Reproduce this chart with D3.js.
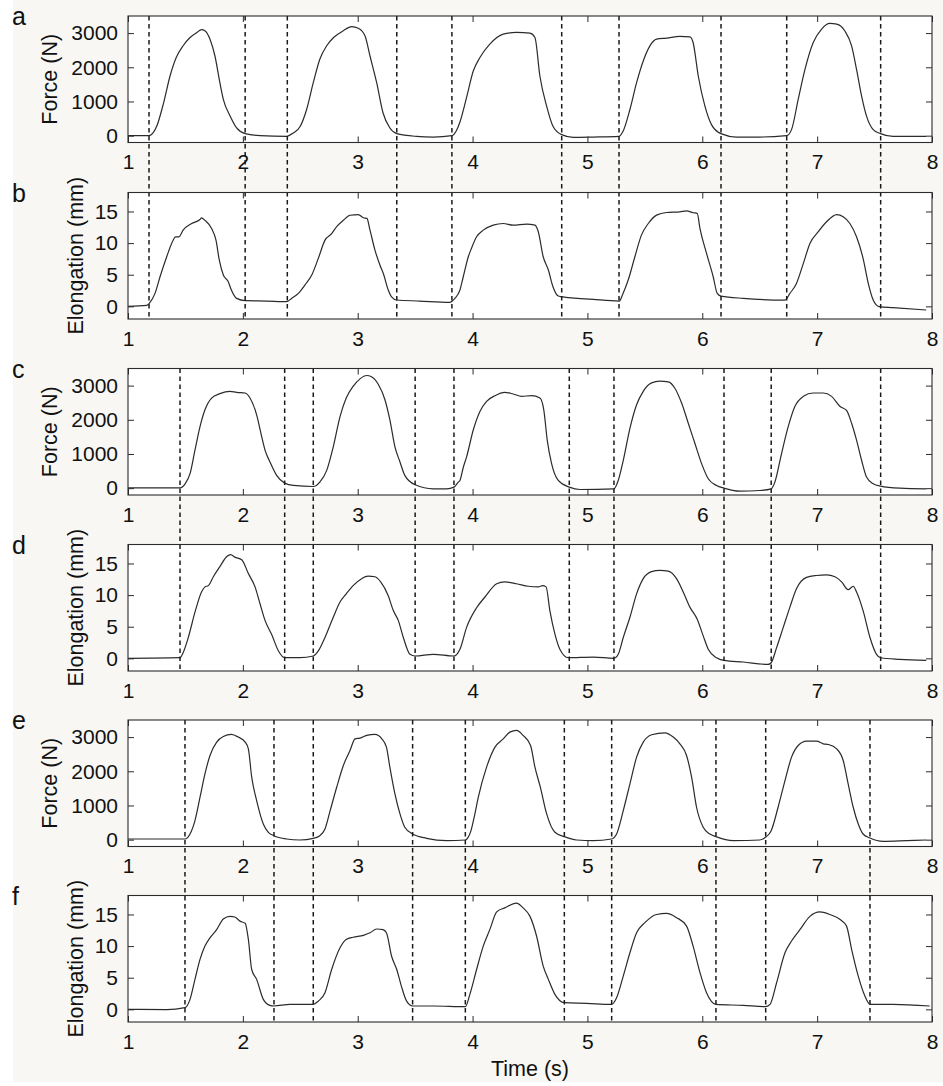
<!DOCTYPE html>
<html><head><meta charset="utf-8">
<script src="https://cdn.jsdelivr.net/npm/d3@7"></script>
<style>
html,body{margin:0;padding:0;background:#fff;}
svg{display:block;font-family:"Liberation Sans",Arial,Helvetica,sans-serif;}
</style></head><body>
<svg id="chart" width="943" height="1086"></svg>
<script>
// Axis ticks and ranges
const timeTicks = [1, 2, 3, 4, 5, 6, 7, 8];
const forceTicks = [0, 1000, 2000, 3000];
const elongTicks = [0, 5, 10, 15];
const forceDomain = [-200, 3500];
const elongDomain = [-2, 18];

// Cycle boundaries (s), shared by each force/elongation pair
const cycleMarksAB = [1.183, 2.02, 2.387, 3.34, 3.82, 4.776, 5.275, 6.163, 6.735, 7.553];
const cycleMarksCD = [1.453, 2.364, 2.613, 3.50, 3.838, 4.842, 5.231, 6.189, 6.60, 7.553];
const cycleMarksEF = [1.496, 2.271, 2.613, 3.478, 3.937, 4.799, 5.211, 6.119, 6.552, 7.46];

// Force (N) vs time (s), trial a
const forceA = [[1.00,0],[1.18,0],[1.25,275],[1.31,960],[1.366,1745],[1.42,2285],[1.48,2630],[1.54,2870],[1.60,3020],[1.64,3100],[1.67,3070],[1.714,2820],[1.757,2330],[1.80,1550],[1.83,1060],[1.89,570],[1.946,225],[2.02,60],[2.15,0],[2.38,-20],[2.44,80],[2.50,275],[2.555,765],[2.613,1550],[2.67,2235],[2.73,2630],[2.79,2870],[2.875,3070],[2.947,3190],[3.005,3140],[3.063,2920],[3.107,2330],[3.165,1550],[3.22,670],[3.28,225],[3.34,60],[3.51,-20],[3.66,-40],[3.82,0],[3.86,150],[3.89,400],[3.95,1150],[4.006,1890],[4.064,2285],[4.15,2676],[4.267,2970],[4.383,3020],[4.50,3000],[4.543,2870],[4.586,1745],[4.645,863],[4.70,275],[4.775,30],[4.877,-50],[5.05,-40],[5.274,-20],[5.31,127],[5.37,765],[5.428,1550],[5.486,2186],[5.544,2627],[5.602,2823],[5.69,2853],[5.805,2902],[5.892,2892],[5.92,2725],[5.965,1745],[6.023,863],[6.08,323],[6.162,60],[6.298,-40],[6.50,-40],[6.734,0],[6.777,176],[6.835,1060],[6.894,1940],[6.966,2725],[7.039,3118],[7.11,3284],[7.17,3260],[7.24,3070],[7.30,2627],[7.343,1940],[7.387,1157],[7.43,570],[7.488,176],[7.552,60],[7.66,-20],[7.95,-20]];

// Elongation (mm) vs time (s), trial b
const elongB = [[1.00,0],[1.163,0.16],[1.19,0.58],[1.235,2.05],[1.279,4.68],[1.337,7.84],[1.38,9.95],[1.415,11.0],[1.444,11.0],[1.48,12.05],[1.554,13.1],[1.627,13.74],[1.64,14.0],[1.67,13.6],[1.728,12.3],[1.766,10.47],[1.795,7.3],[1.83,4.95],[1.873,3.9],[1.90,2.58],[1.946,1.26],[2.02,0.9],[2.207,0.84],[2.38,0.74],[2.425,1.26],[2.483,2.05],[2.54,3.37],[2.60,4.95],[2.657,7.58],[2.715,10.47],[2.773,11.5],[2.817,12.6],[2.875,13.6],[2.933,14.4],[3.005,14.5],[3.05,14.0],[3.08,13.9],[3.107,12.05],[3.15,8.9],[3.194,6.5],[3.223,5.2],[3.266,2.58],[3.295,1.5],[3.339,1.0],[3.54,0.84],[3.80,0.63],[3.846,1.26],[3.89,2.58],[3.919,4.68],[3.963,7.84],[3.99,9.16],[4.035,11.0],[4.093,12.05],[4.18,12.84],[4.267,13.1],[4.354,12.84],[4.47,13.0],[4.543,12.84],[4.572,11.8],[4.615,7.84],[4.66,5.74],[4.70,3.1],[4.746,1.63],[4.775,1.53],[5.05,1.1],[5.277,0.84],[5.31,2.05],[5.355,4.16],[5.413,7.84],[5.47,11.26],[5.53,13.1],[5.602,14.42],[5.69,14.84],[5.805,14.95],[5.863,15.1],[5.92,14.8],[5.956,14.7],[5.98,12.3],[6.037,8.37],[6.095,4.68],[6.13,2.05],[6.162,1.63],[6.357,1.26],[6.72,1.0],[6.763,2.05],[6.82,3.63],[6.88,6.8],[6.937,9.95],[7.01,11.8],[7.082,13.37],[7.17,14.5],[7.227,14.16],[7.285,13.1],[7.343,11.0],[7.40,7.58],[7.445,3.63],[7.488,1.0],[7.54,-0.05],[7.66,-0.2],[7.95,-0.58]];

// Force (N) vs time (s), trial c
const forceC = [[1.00,10],[1.453,10],[1.497,128],[1.54,423],[1.583,1111],[1.627,1800],[1.67,2292],[1.728,2636],[1.80,2764],[1.888,2833],[1.946,2803],[2.02,2783],[2.062,2636],[2.12,2144],[2.164,1505],[2.193,1111],[2.236,767],[2.294,374],[2.364,148],[2.44,79],[2.613,49],[2.67,177],[2.73,521],[2.787,1210],[2.846,2095],[2.90,2636],[2.96,2980],[3.02,3197],[3.078,3295],[3.12,3256],[3.18,3030],[3.237,2587],[3.28,1997],[3.324,1210],[3.368,767],[3.41,374],[3.50,98],[3.658,-20],[3.774,-20],[3.838,30],[3.876,177],[3.89,226],[3.92,620],[3.948,915],[4.006,1702],[4.064,2243],[4.122,2538],[4.195,2705],[4.28,2803],[4.354,2754],[4.427,2685],[4.514,2705],[4.586,2636],[4.62,2292],[4.65,1407],[4.688,718],[4.746,226],[4.842,30],[4.935,-39],[5.23,-20],[5.268,226],[5.312,816],[5.37,1751],[5.428,2440],[5.486,2833],[5.559,3079],[5.63,3128],[5.704,3108],[5.76,2931],[5.82,2489],[5.878,1898],[5.936,1308],[5.994,718],[6.052,275],[6.124,79],[6.188,0],[6.327,-89],[6.50,-69],[6.60,-20],[6.632,177],[6.69,1013],[6.748,1800],[6.806,2390],[6.88,2685],[6.966,2783],[7.053,2783],[7.126,2685],[7.20,2390],[7.256,2272],[7.30,1898],[7.343,1407],[7.387,816],[7.43,325],[7.488,128],[7.552,59],[7.72,0],[7.95,-20]];

// Elongation (mm) vs time (s), trial d
const elongD = [[1.00,0],[1.453,0.1],[1.48,0.9],[1.525,3.3],[1.583,7.3],[1.64,10.5],[1.67,11.3],[1.70,11.5],[1.743,12.9],[1.80,14.5],[1.86,16.1],[1.894,16.4],[1.93,16.0],[1.99,15.6],[2.048,13.4],[2.106,11.3],[2.15,8.6],[2.193,6.0],[2.25,3.8],[2.31,1.17],[2.364,0.1],[2.497,0.1],[2.613,0.37],[2.657,1.17],[2.715,3.3],[2.787,6.5],[2.846,8.9],[2.90,10.2],[2.96,11.5],[3.034,12.6],[3.09,13.0],[3.15,12.9],[3.20,12.1],[3.266,9.9],[3.31,7.55],[3.353,6.0],[3.397,3.3],[3.455,0.64],[3.50,0.37],[3.658,0.64],[3.838,0.37],[3.89,1.44],[3.948,4.9],[4.035,8.0],[4.108,9.7],[4.21,11.8],[4.28,12.1],[4.383,11.8],[4.485,11.4],[4.572,11.3],[4.61,11.5],[4.64,11.3],[4.673,7.55],[4.717,3.83],[4.76,1.44],[4.833,0.1],[5.05,0.2],[5.23,0],[5.268,0.64],[5.312,3.3],[5.37,6.5],[5.428,10.2],[5.486,12.6],[5.559,13.7],[5.63,13.9],[5.704,13.8],[5.776,12.6],[5.834,10.5],[5.892,8.1],[5.956,6.2],[6.008,3.56],[6.052,1.44],[6.124,0.1],[6.188,-0.32],[6.357,-0.58],[6.574,-0.96],[6.60,-0.7],[6.647,1.7],[6.705,4.9],[6.763,8.1],[6.82,11.0],[6.908,12.8],[6.995,13.1],[7.082,13.2],[7.155,12.9],[7.213,12.1],[7.27,10.85],[7.314,11.4],[7.343,10.5],[7.40,7.55],[7.46,3.3],[7.517,0.64],[7.552,0.1],[7.72,-0.16],[7.95,-0.32]];

// Force (N) vs time (s), trial e
const forceE = [[1.00,20],[1.496,20],[1.54,166],[1.583,557],[1.627,1241],[1.67,1925],[1.714,2462],[1.772,2853],[1.83,3019],[1.90,3077],[1.96,3000],[2.02,2853],[2.048,2657],[2.077,1827],[2.12,1143],[2.178,459],[2.222,215],[2.27,117],[2.38,20],[2.497,-10],[2.613,39],[2.67,117],[2.715,313],[2.76,850],[2.817,1534],[2.875,2169],[2.933,2608],[2.977,2950],[3.02,2970],[3.078,3048],[3.15,3077],[3.21,2950],[3.25,2706],[3.28,2120],[3.324,1338],[3.368,752],[3.41,361],[3.478,166],[3.60,39],[3.774,-29],[3.937,-10],[3.96,60],[3.985,250],[4.02,750],[4.05,1241],[4.122,2120],[4.195,2706],[4.267,2950],[4.325,3146],[4.383,3195],[4.44,3048],[4.505,2755],[4.543,2120],[4.59,1534],[4.645,752],[4.717,215],[4.798,88],[4.906,-10],[5.05,-29],[5.21,20],[5.254,166],[5.312,850],[5.37,1632],[5.428,2413],[5.486,2853],[5.559,3068],[5.675,3126],[5.747,3000],[5.805,2804],[5.863,2462],[5.907,1827],[5.95,948],[6.008,361],[6.066,166],[6.119,88],[6.27,-29],[6.50,-10],[6.55,68],[6.60,264],[6.66,948],[6.72,1729],[6.777,2413],[6.835,2755],[6.908,2882],[6.995,2882],[7.053,2804],[7.097,2784],[7.17,2657],[7.227,2315],[7.27,1632],[7.314,948],[7.358,459],[7.40,166],[7.46,49],[7.575,-49],[7.78,-29],[7.95,-10]];

// Elongation (mm) vs time (s), trial f
const elongF = [[1.00,0],[1.337,-0.05],[1.496,0.26],[1.54,1.58],[1.583,4.74],[1.627,7.9],[1.67,10.0],[1.714,11.3],[1.772,12.6],[1.83,14.3],[1.888,14.7],[1.93,14.6],[1.975,13.95],[2.02,13.6],[2.048,11.05],[2.077,6.3],[2.12,4.74],[2.178,1.58],[2.236,0.63],[2.27,0.53],[2.41,0.79],[2.613,0.79],[2.657,1.3],[2.715,2.63],[2.773,6.3],[2.846,9.74],[2.90,11.05],[2.96,11.4],[3.05,11.7],[3.107,12.1],[3.165,12.7],[3.22,12.6],[3.25,12.1],[3.295,8.4],[3.34,6.3],[3.38,3.68],[3.426,1.3],[3.478,0.53],[3.658,0.53],[3.937,0.42],[3.977,2.4],[4.035,6.3],[4.093,10.0],[4.15,12.6],[4.21,15.4],[4.28,16.05],[4.383,16.8],[4.44,16.05],[4.50,14.7],[4.557,11.6],[4.615,6.84],[4.66,4.74],[4.717,2.37],[4.798,1.05],[4.993,0.95],[5.21,0.79],[5.254,1.84],[5.312,5.26],[5.37,8.95],[5.428,12.1],[5.50,13.7],[5.602,15.0],[5.69,15.16],[5.776,14.5],[5.863,13.16],[5.92,10.0],[5.98,5.8],[6.037,2.63],[6.119,0.79],[6.357,0.63],[6.55,0.42],[6.59,0.79],[6.647,4.2],[6.72,8.95],[6.777,10.8],[6.85,12.6],[6.937,14.7],[7.024,15.4],[7.11,15.0],[7.20,14.2],[7.256,13.16],[7.30,9.5],[7.358,5.26],[7.416,2.1],[7.46,0.79],[7.66,0.79],[7.98,0.53]];

// ---- layout ----
const svg = d3.select("#chart");
const plotLeft = 128, plotRight = 932, plotH = 126.5;
const tickFont = 21, titleFont = 21.5, letterFont = 25;
const ink = "#2b2b2b";

svg.append("rect").attr("x", 13).attr("y", 0).attr("width", 930).attr("height", 1082).attr("fill", "#f8f7f4");

const x = d3.scaleLinear().domain([1, 8]).range([plotLeft, plotRight]);

const panels = [
  { letter: "a", data: forceA, kind: "force", top: 16 },
  { letter: "b", data: elongB, kind: "elong", top: 192.5 },
  { letter: "c", data: forceC, kind: "force", top: 368.5 },
  { letter: "d", data: elongD, kind: "elong", top: 544.5 },
  { letter: "e", data: forceE, kind: "force", top: 720 },
  { letter: "f", data: elongF, kind: "elong", top: 895.5 }
];
const pairs = [
  { marks: cycleMarksAB, upper: 0, lower: 1 },
  { marks: cycleMarksCD, upper: 2, lower: 3 },
  { marks: cycleMarksEF, upper: 4, lower: 5 }
];

panels.forEach(p => {
  const isForce = p.kind === "force";
  p.y = d3.scaleLinear()
    .domain(isForce ? forceDomain : elongDomain)
    .range([p.top + plotH, p.top]);
  const g = svg.append("g");
  g.append("rect")
    .attr("x", plotLeft).attr("y", p.top)
    .attr("width", plotRight - plotLeft).attr("height", plotH)
    .attr("fill", "#ffffff");

  const line = d3.line()
    .x(d => x(d[0])).y(d => p.y(d[1]))
    .curve(d3.curveMonotoneX);
  g.append("path").datum(p.data)
    .attr("d", line)
    .attr("fill", "none")
    .attr("stroke", ink)
    .attr("stroke-width", 1.2)
    .attr("stroke-linejoin", "round");
});

// dashed cycle boundaries spanning each pair of panels
pairs.forEach(pr => {
  const y1 = panels[pr.upper].top;
  const y2 = panels[pr.lower].top + plotH;
  svg.append("g").selectAll("line").data(pr.marks).join("line")
    .attr("x1", d => x(d)).attr("x2", d => x(d))
    .attr("y1", y1).attr("y2", y2)
    .attr("stroke", "#1a1a1a")
    .attr("stroke-width", 1.5)
    .attr("stroke-dasharray", "4.5,3.5");
});

// axes and frames
panels.forEach(p => {
  const isForce = p.kind === "force";
  const g = svg.append("g");
  const yTicks = isForce ? forceTicks : elongTicks;

  const bottom = g.append("g").attr("transform", `translate(0,${p.top + plotH})`)
    .call(d3.axisBottom(x).tickValues(timeTicks).tickFormat(d3.format("d")).tickSize(-6).tickPadding(12));
  const top = g.append("g").attr("transform", `translate(0,${p.top})`)
    .call(d3.axisTop(x).tickValues(timeTicks).tickFormat("").tickSize(-6));
  const left = g.append("g").attr("transform", `translate(${plotLeft},0)`)
    .call(d3.axisLeft(p.y).tickValues(yTicks).tickFormat(d3.format("d")).tickSize(-6).tickPadding(10));
  const right = g.append("g").attr("transform", `translate(${plotRight},0)`)
    .call(d3.axisRight(p.y).tickValues(yTicks).tickFormat("").tickSize(-6));

  [bottom, top, left, right].forEach(a => {
    a.select(".domain").remove();
    a.selectAll(".tick line").attr("stroke", ink).attr("stroke-width", 1);
    a.selectAll(".tick text").attr("fill", "#111").attr("font-size", tickFont)
      .attr("font-family", "'Liberation Sans', Arial, sans-serif");
  });

  g.append("rect")
    .attr("x", plotLeft).attr("y", p.top)
    .attr("width", plotRight - plotLeft).attr("height", plotH)
    .attr("fill", "none").attr("stroke", ink).attr("stroke-width", 1.1);

  const cy = p.top + plotH / 2;
  const tx = isForce ? 50 : 76;
  g.append("text")
    .attr("transform", `translate(${tx},${cy}) rotate(-90)`)
    .attr("text-anchor", "middle")
    .attr("dominant-baseline", "central")
    .attr("font-size", titleFont)
    .attr("fill", "#111")
    .text(isForce ? "Force (N)" : "Elongation (mm)");

  g.append("text")
    .attr("x", 12).attr("y", p.top + 9)
    .attr("font-size", letterFont)
    .attr("fill", "#111")
    .text(p.letter);
});

svg.append("text")
  .attr("x", (plotLeft + plotRight) / 2).attr("y", 1076)
  .attr("text-anchor", "middle")
  .attr("font-size", titleFont)
  .attr("fill", "#111")
  .text("Time (s)");
</script>
</body></html>
